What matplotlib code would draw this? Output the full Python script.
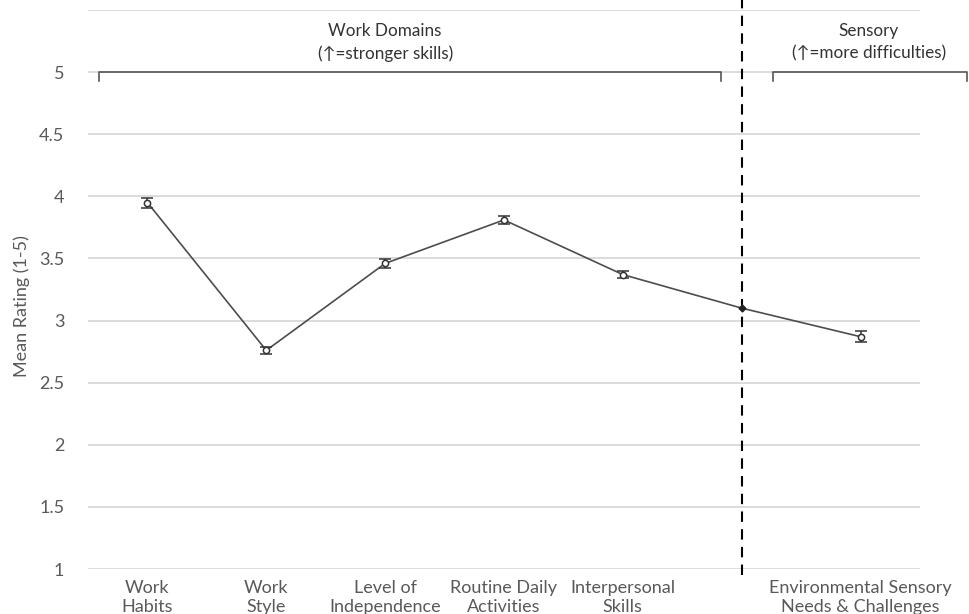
import matplotlib
matplotlib.use("Agg")
import matplotlib.pyplot as plt
import matplotlib.transforms as mtransforms
import numpy as np

categories = ["Work\nHabits", "Work\nStyle", "Level of\nIndependence", "Routine Daily\nActivities",
              "Interpersonal\nSkills", "", "Environmental Sensory\nNeeds & Challenges"]
means = [3.95, 2.76, 3.46, 3.81, 3.37, 3.10, 2.87]
errors = [0.04, 0.03, 0.035, 0.03, 0.03, 0.0, 0.045]
yticks = [1, 1.5, 2, 2.5, 3, 3.5, 4, 4.5, 5, 5.5]
ytick_labels = ["1", "1.5", "2", "2.5", "3", "3.5", "4", "4.5", "5", ""]
divider_index = 5
group_titles = ["Work Domains\n(\u2191=stronger skills)", "Sensory\n(\u2191=more difficulties)"]

plt.rcParams['font.family'] = ['Lato', 'DejaVu Sans']
TXT = "#595959"
LINE = "#4d4d4d"
GRID = "#d9d9d9"

fig = plt.figure(figsize=(9.69, 6.14), dpi=100)
ax = fig.add_axes([88/969, 1-569/614, (920-88)/969, (569-10)/614])

x = np.arange(len(categories))
ax.plot(x, means, color=LINE, lw=1.2, zorder=3)
mask = np.array(errors) > 0
ax.errorbar(x[mask], np.array(means)[mask], yerr=np.array(errors)[mask], fmt='o',
            ms=4.5, mfc='white', mec='#333333', mew=1.1, ecolor='#333333',
            elinewidth=1.1, capsize=4.5, capthick=1.1, zorder=4)
ax.plot(x[~mask], np.array(means)[~mask], marker='D', ms=3.5, color='#222222',
        ls='none', zorder=5)

ax.set_xlim(-0.5, len(categories) - 0.5)
ax.set_ylim(1, 5.5)
ax.set_yticks(yticks)
ax.set_yticklabels(ytick_labels)
ax.set_xticks(x)
ax.set_xticklabels(categories, linespacing=1.25)
ax.tick_params(axis='both', length=0, labelsize=13, colors=TXT)
ax.tick_params(axis='y', pad=17)
ax.tick_params(axis='x', pad=8)
ax.yaxis.grid(True, color=GRID, lw=1.3)
ax.set_axisbelow(True)
for s in ax.spines.values():
    s.set_visible(False)

ax.set_ylabel("Mean Rating (1-5)", fontsize=13, color=TXT)
ax.yaxis.set_label_coords(-0.07, 0.47)

# divider
trans = mtransforms.blended_transform_factory(ax.transData, ax.transAxes)
ax.plot([divider_index, divider_index], [-0.01, 1.02], transform=trans, color='black',
        lw=1.5, ls=(0, (5, 3.5)), clip_on=False, zorder=2)

# brackets
def bracket(x0, x1, y, d):
    ax.plot([x0, x0, x1, x1], [y - d, y, y, y - d], color='#555555', lw=1.2,
            clip_on=False, zorder=2)

bracket(-0.407, 4.826, 5.0, 0.07)
bracket(5.263, 6.895, 5.0, 0.07)

ax.text(2.0, 5.24, group_titles[0], ha='center', va='center', fontsize=12.3,
        color='#333333', linespacing=1.5)
ax.text(6.07, 5.24, group_titles[1], ha='center', va='center', fontsize=12.3,
        color='#333333', linespacing=1.5)

fig.savefig("out.png", dpi=100)
